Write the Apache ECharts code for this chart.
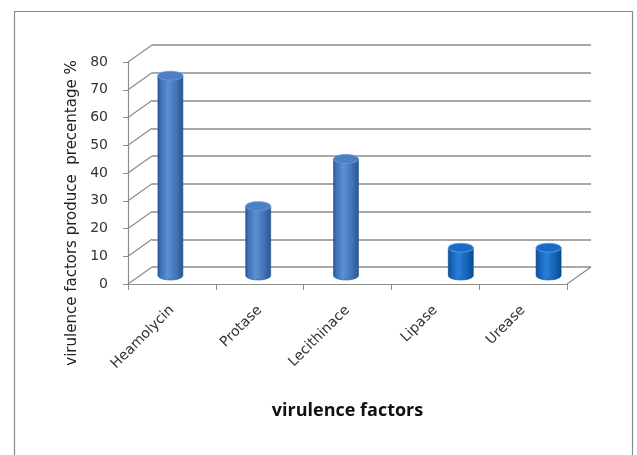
<!DOCTYPE html>
<html>
<head>
<meta charset="utf-8">
<script src="https://cdn.jsdelivr.net/npm/echarts@6/dist/echarts.min.js"></script>
<style>
  html, body { margin: 0; padding: 0; background: #fff; }
  #chart { width: 637px; height: 455px; }
</style>
</head>
<body>
<div id="chart"></div>
<script>
// Virulence factors: share of isolates producing each factor (%)
const categories = ['Heamolycin', 'Protase', 'Lecithinace', 'Lipase', 'Urease'];
// Two column groups, clustered side by side within each category
const groupA = [72, 25, 42, null, null];
const groupB = [null, null, null, 10, 10];
const yTicks = [0, 10, 20, 30, 40, 50, 60, 70, 80];
const yTitle = 'virulence factors produce  precentage %';
const xTitle = 'virulence factors';

// depth of the 3D box (back wall offset relative to the front face)
const DX = 24, DY = -17;
const BAR_W = 25, BAR_GAP = 2, RY = 4.5;

const chart = echarts.init(document.getElementById('chart'));

const front = { left: 128, right: 70, top: 62, bottom: 171 };
const back  = { left: front.left + DX, right: front.right - DX, top: front.top + DY, bottom: front.bottom - DY };
const mid   = { left: front.left + DX / 2, right: front.right - DX / 2, top: front.top + DY / 2, bottom: front.bottom - DY / 2 };

const yMin = yTicks[0], yMax = yTicks[yTicks.length - 1], yStep = yTicks[1] - yTicks[0];

function ellipsePts(cx, cy, rx, ry, a0, a1, n) {
  const pts = [];
  for (let i = 0; i <= n; i++) {
    const a = a0 + (a1 - a0) * i / n;
    pts.push([cx + rx * Math.cos(a), cy + ry * Math.sin(a)]);
  }
  return pts;
}

// cylinder renderer for clustered group k (0 = left, 1 = right)
function cylinder(k, palette) {
  return function (params, api) {
    const v = api.value(1);
    if (v == null || isNaN(v)) return;
    const idx = api.value(0);
    const top = api.coord([idx, v]);
    const base = api.coord([idx, 0]);
    const off = (k - 0.5) * (BAR_W + BAR_GAP);
    const cx = top[0] + off;
    const r = BAR_W / 2;
    const yt = top[1], yb = base[1];
    const body = [[cx - r, yt]]
      .concat(ellipsePts(cx, yb, r, RY, Math.PI, 0, 24))
      .concat([[cx + r, yt]])
      .concat(ellipsePts(cx, yt, r, RY, 0, Math.PI, 24));
    const grad = new echarts.graphic.LinearGradient(0, 0, 1, 0, [
      { offset: 0, color: palette.edge },
      { offset: 0.12, color: palette.main },
      { offset: 0.4, color: palette.light },
      { offset: 0.75, color: palette.main },
      { offset: 1, color: palette.edge }
    ]);
    return {
      type: 'group',
      children: [
        { type: 'polygon', shape: { points: body }, style: { fill: grad, stroke: palette.edge, lineWidth: 0.6 } },
        { type: 'polygon', shape: { points: ellipsePts(cx, yt, r, RY, 0, Math.PI * 2, 40) },
          style: { fill: palette.cap, stroke: palette.capStroke, lineWidth: 0.8 } }
      ]
    };
  };
}

const paletteA = { edge: '#2a558f', main: '#3f71b6', light: '#5d8fd3', cap: '#4d7fc4', capStroke: '#6f98d6' };
const paletteB = { edge: '#0b4a8c', main: '#1262b8', light: '#2a7fd6', cap: '#1a6dc4', capStroke: '#5ea0e6' };

// side-wall and floor edges linking the front face to the back wall
function wallEdges(params, api) {
  const v = api.value(0);
  const cs = params.coordSys;
  const y = api.coord([0, v])[1];
  const lineStyle = { stroke: '#8c8c8c', lineWidth: 1.2 };
  const children = [
    { type: 'line', shape: { x1: cs.x, y1: y, x2: cs.x + DX, y2: y + DY }, style: lineStyle }
  ];
  if (v === yMin) {
    const xr = cs.x + cs.width;
    children.push({ type: 'line', shape: { x1: xr, y1: y, x2: xr + DX, y2: y + DY }, style: lineStyle });
  }
  return { type: 'group', children: children };
}

const labelFont = { color: '#333', fontFamily: 'DejaVu Sans, Liberation Sans, sans-serif' };

chart.setOption({
  backgroundColor: '#fff',
  animation: false,
  graphic: [
    { type: 'rect', shape: { x: 14.5, y: 11.5, width: 618, height: 470 },
      style: { fill: 'none', stroke: '#8a8a8a', lineWidth: 1.2 } },
    { type: 'text', x: 72, y: 213, rotation: Math.PI / 2,
      style: { text: yTitle, fontSize: 15, fill: '#222', align: 'center', verticalAlign: 'middle',
               fontFamily: 'DejaVu Sans, Liberation Sans, sans-serif' } }
  ],
  grid: [
    Object.assign({}, front),
    Object.assign({}, back),
    Object.assign({}, mid)
  ],
  xAxis: [
    {
      gridIndex: 0, type: 'category', data: categories, boundaryGap: true,
      axisLine: { lineStyle: { color: '#8c8c8c', width: 1.2 } },
      axisTick: { show: true, alignWithLabel: false, length: 6, lineStyle: { color: '#8c8c8c' } },
      axisLabel: Object.assign({ rotate: 45, fontSize: 14, margin: 24, interval: 0 }, labelFont),
      name: xTitle, nameLocation: 'middle', nameGap: 118,
      nameTextStyle: { fontSize: 18, fontWeight: 'bold', color: '#111', fontFamily: 'Open Sans, Liberation Sans, sans-serif' }
    },
    { gridIndex: 1, type: 'category', data: categories, show: false },
    { gridIndex: 2, type: 'category', data: categories, show: false }
  ],
  yAxis: [
    {
      gridIndex: 0, type: 'value', min: yMin, max: yMax, interval: yStep,
      axisLine: { show: true, lineStyle: { color: '#8c8c8c', width: 1.2 } },
      axisTick: { show: true, length: 5, lineStyle: { color: '#8c8c8c' } },
      splitLine: { show: false },
      axisLabel: Object.assign({ fontSize: 14, margin: 20 }, labelFont)
    },
    {
      gridIndex: 1, type: 'value', min: yMin, max: yMax, interval: yStep,
      axisLine: { show: false }, axisTick: { show: false }, axisLabel: { show: false },
      splitLine: { show: true, lineStyle: { color: '#8c8c8c', width: 1.5 } }
    },
    {
      gridIndex: 2, type: 'value', min: yMin, max: yMax, interval: yStep, show: false,
      splitLine: { show: false }
    }
  ],
  series: [
    {
      type: 'custom', xAxisIndex: 0, yAxisIndex: 0,
      data: yTicks.map(function (t) { return [t]; }),
      encode: { y: 0 },
      renderItem: wallEdges, silent: true, z: 1
    },
    {
      type: 'custom', xAxisIndex: 2, yAxisIndex: 2, z: 5,
      data: groupA.map(function (v, i) { return [i, v]; }),
      encode: { x: 0, y: 1 },
      renderItem: cylinder(0, paletteA)
    },
    {
      type: 'custom', xAxisIndex: 2, yAxisIndex: 2, z: 5,
      data: groupB.map(function (v, i) { return [i, v]; }),
      encode: { x: 0, y: 1 },
      renderItem: cylinder(1, paletteB)
    }
  ]
});
</script>
</body>
</html>
